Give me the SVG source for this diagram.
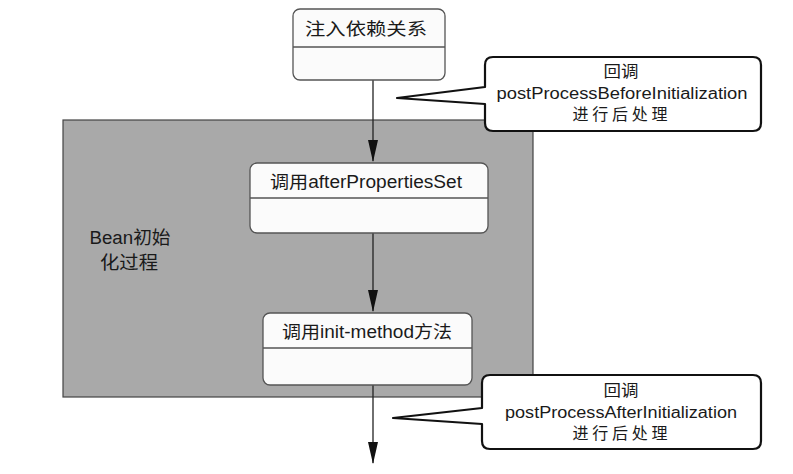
<svg xmlns="http://www.w3.org/2000/svg" width="793" height="474" viewBox="0 0 793 474">
  <style>
    .node rect.box { fill: #fbfbfb; stroke: #555; stroke-width: 1.3; }
    .node line { stroke: #555; stroke-width: 1.3; }
    .t { font-family: "Liberation Sans", "Noto Sans CJK SC", sans-serif; fill: #1a1a1a; text-anchor: middle; }
    .lbl { font-size: 17.5px; }
    .cl { font-size: 16px; }
    .call { fill: #ffffff; stroke: #111; stroke-width: 2.2; stroke-linejoin: round; }
    .conn { stroke: #222; stroke-width: 1.3; fill: none; }
  </style>
  <defs>
    <marker id="arr" markerWidth="22" markerHeight="10" refX="21" refY="5" orient="auto" markerUnits="userSpaceOnUse" viewBox="0 0 22 10">
      <path d="M0,0 L22,5 L0,10 Z" fill="#111"/>
    </marker>
  </defs>
  <rect width="793" height="474" fill="#ffffff"/>

  <g id="bean-init-region">
    <rect x="63" y="120" width="470" height="277" fill="#a9a9a9" stroke="#444" stroke-width="1.2"/>
    <text class="t" x="130" y="244" font-size="18" textLength="81" lengthAdjust="spacingAndGlyphs">Bean初始</text>
    <text class="t" x="129" y="269" font-size="18" textLength="58" lengthAdjust="spacingAndGlyphs">化过程</text>
  </g>

  <g id="connectors">
    <line class="conn" x1="373" y1="80" x2="373" y2="161" marker-end="url(#arr)"/>
    <line class="conn" x1="373" y1="233" x2="373" y2="311" marker-end="url(#arr)"/>
    <line class="conn" x1="373" y1="385" x2="373" y2="463" marker-end="url(#arr)"/>
  </g>

  <g id="node-inject" class="node">
    <rect class="box" x="293" y="9" width="152" height="71" rx="7"/>
    <line x1="293" y1="47" x2="445" y2="47"/>
    <text class="t lbl" x="366" y="35" textLength="122" lengthAdjust="spacingAndGlyphs">注入依赖关系</text>
  </g>

  <g id="node-afterPropertiesSet" class="node">
    <rect class="box" x="250" y="163" width="238" height="70" rx="7"/>
    <line x1="250" y1="198" x2="488" y2="198"/>
    <text class="t lbl" x="366" y="188" textLength="192" lengthAdjust="spacingAndGlyphs">调用afterPropertiesSet</text>
  </g>

  <g id="node-init-method" class="node">
    <rect class="box" x="263" y="313" width="209" height="72" rx="7"/>
    <line x1="263" y1="348" x2="472" y2="348"/>
    <text class="t lbl" x="367" y="338" textLength="170" lengthAdjust="spacingAndGlyphs">调用init-method方法</text>
  </g>

  <g id="callout-before">
    <path class="call" d="M493,57 H753 Q761,57 761,65 V123 Q761,131 753,131 H493 Q485,131 485,123 V104 L397,98 L485,87 V65 Q485,57 493,57 Z"/>
    <text class="t cl" x="621" y="77" textLength="35" lengthAdjust="spacingAndGlyphs">回调</text>
    <text class="t cl" x="622" y="99" textLength="251" lengthAdjust="spacingAndGlyphs">postProcessBeforeInitialization</text>
    <text class="t cl" x="620" y="120" textLength="95" lengthAdjust="spacing">进行后处理</text>
  </g>

  <g id="callout-after">
    <path class="call" d="M490,375 H753 Q761,375 761,383 V441 Q761,449 753,449 H490 Q482,449 482,441 V424 L393,418 L482,408 V383 Q482,375 490,375 Z"/>
    <text class="t cl" x="621" y="396" textLength="35" lengthAdjust="spacingAndGlyphs">回调</text>
    <text class="t cl" x="621" y="418" textLength="232" lengthAdjust="spacingAndGlyphs">postProcessAfterInitialization</text>
    <text class="t cl" x="620" y="439" textLength="95" lengthAdjust="spacing">进行后处理</text>
  </g>
</svg>
